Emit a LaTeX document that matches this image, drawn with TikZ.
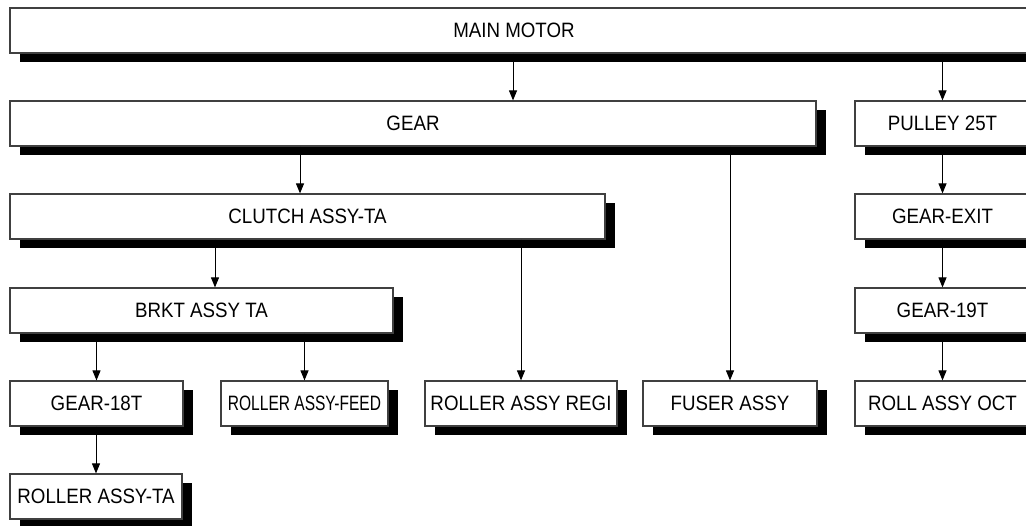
\documentclass[tikz,border=0pt]{standalone}
\usepackage{fontspec}
\setmainfont{Liberation Sans}[FakeStretch=0.9]
\usetikzlibrary{arrows.meta,shadows}

\begin{document}
\begin{tikzpicture}[x=0.5pt, y=-0.5pt,
  font=\fontsize{10.4}{12}\selectfont, >={Triangle[length=5pt,width=4pt]},
  part/.style={draw=black!75, line width=0.6pt, fill=white, inner sep=0pt,
    minimum height=22.5pt,
    drop shadow={shadow xshift=5pt, shadow yshift=-4.5pt, fill=black, opacity=1}},
  flow/.style={->, line width=0.5pt}]
  \clip (0,0) rectangle (1026,525);

  % ----- top rows -----
  \node[part, minimum width=510pt]   (motor)  at (520,30.5)  {MAIN MOTOR\hspace*{6pt}};
  \node[part, minimum width=403pt]   (gear)   at (413,123.5) {GEAR};
  \node[part, minimum width=87.5pt]  (pulley) at (942.5,123.5) {PULLEY 25T};
  \node[part, minimum width=297.5pt] (clutch) at (307.5,216.5) {CLUTCH ASSY-TA};
  \node[part, minimum width=87.5pt]  (exit)   at (942.5,216.5) {GEAR-EXIT};
  \node[part, minimum width=191.5pt] (brkt)   at (201.5,310.5) {BRKT ASSY TA};
  \node[part, minimum width=87.5pt]  (g19)    at (942.5,310.5) {GEAR-19T};

  % ----- bottom rows -----
  \node[part, minimum width=86.5pt]  (g18)    at (96.5,403.5)  {GEAR-18T};
  \node[part, minimum width=83.5pt]  (feed)   at (304.5,403.5) {\scalebox{0.83}[1]{ROLLER ASSY-FEED}};
  \node[part, minimum width=96pt]    (regi)   at (521,403.5)   {ROLLER ASSY REGI};
  \node[part, minimum width=87pt]    (fuser)  at (730,403.5)   {FUSER ASSY};
  \node[part, minimum width=87.5pt]  (oct)    at (942.5,403.5) {ROLL ASSY OCT};
  \node[part, minimum width=86pt]    (rollta) at (96,496.5)    {ROLLER ASSY-TA};

  % ----- drive lines -----
  \draw[flow] ([xshift=50pt]gear.north |- motor.south) -- ([xshift=50pt]gear.north);
  \draw[flow] ([xshift=-3.75pt]clutch.north |- gear.south) -- ([xshift=-3.75pt]clutch.north);
  \draw[flow] ([xshift=6.75pt]brkt.north |- clutch.south) -- ([xshift=6.75pt]brkt.north);
  \foreach \a/\b in {motor/pulley, pulley/exit, exit/g19, g19/oct, gear/fuser,
                     clutch/regi, brkt/g18, brkt/feed, g18/rollta}
    \draw[flow] (\a.south -| \b.north) -- (\b.north);
\end{tikzpicture}
\end{document}
